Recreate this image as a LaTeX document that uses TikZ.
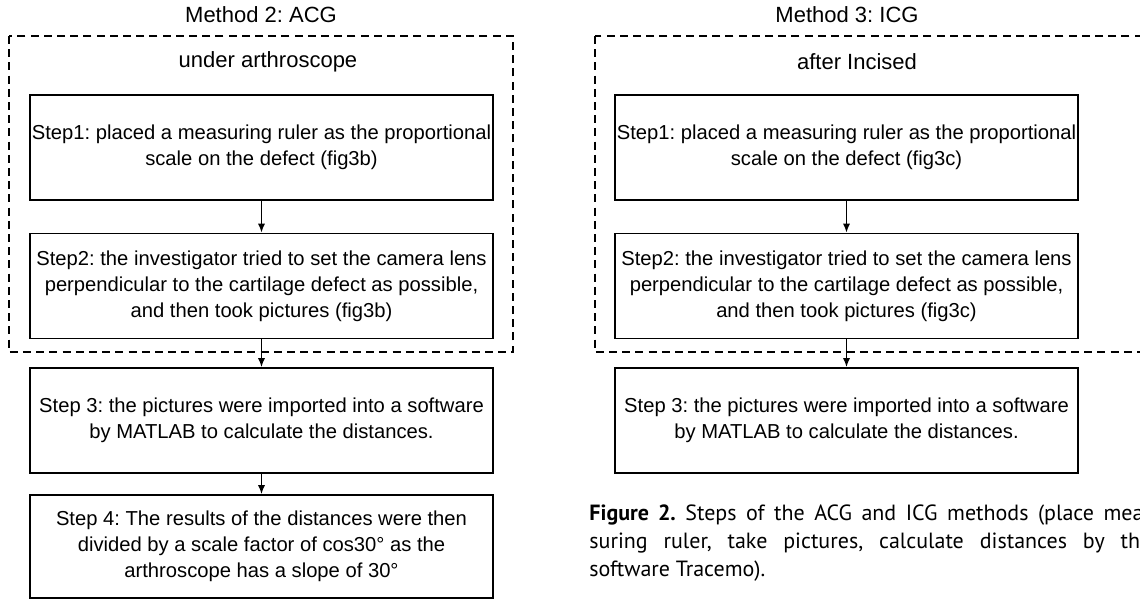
\documentclass[tikz,border=0pt]{standalone}
\usepackage{fontspec}
\setmainfont{Liberation Sans}
\newfontfamily\capfont{PT Sans}
\usetikzlibrary{arrows.meta}
\frenchspacing

\begin{document}
\begin{tikzpicture}[x=0.5pt,y=-0.5pt,
  stepbox/.style={draw, line width=0.9pt, minimum width=231.5pt, minimum height=52.5pt,
    inner sep=0pt, align=center, font=\fontsize{10.1}{13}\selectfont},
  groupbox/.style={dash pattern=on 4pt off 2.6pt, line width=0.75pt},
  heading/.style={inner sep=0pt, font=\fontsize{11}{13}\selectfont},
  flow/.style={line width=0.7pt, -{Latex[length=4.5pt,width=3.6pt]}}]
\useasboundingbox (0,0) rectangle (1140,600);
\clip (0,0) rectangle (1140,600);
% method 2: ACG
\node[heading] (acgtitle) at (261,15) {Method 2: ACG};
\draw[groupbox] (9,36) rectangle (513,352);
\node[heading] (acgwhere) at (268,62) {under arthroscope};
\node[stepbox] (acg1) at (261.5,147.5) {Step1: placed a measuring ruler as the proportional\\scale on the defect (fig3b)};
\node[stepbox] (acg2) at (261.5,286) {Step2: the investigator tried to set the camera lens\\perpendicular to the cartilage defect as possible,\\and then took pictures (fig3b)};
\node[stepbox] (acg3) at (261.5,420.5) {Step 3: the pictures were imported into a software\\by MATLAB to calculate the distances.};
\node[stepbox, minimum height=51.5pt] (acg4) at (261.5,546.5) {Step 4: The results of the distances were then\\divided by a scale factor of cos30° as the\\arthroscope has a slope of 30°};
\draw[flow] (acg1) -- (acg2);
\draw[flow] (acg2) -- (acg3);
\draw[flow] (acg3) -- (acg4);
% method 3: ICG
\node[heading] (icgtitle) at (847,15) {Method 3: ICG};
\draw[groupbox] (595,36) rectangle (1160,352);
\node[heading] (icgwhere) at (857,62) {after Incised};
\node[stepbox] (icg1) at (846.5,147.5) {Step1: placed a measuring ruler as the proportional\\scale on the defect (fig3c)};
\node[stepbox] (icg2) at (846.5,286) {Step2: the investigator tried to set the camera lens\\perpendicular to the cartilage defect as possible,\\and then took pictures (fig3c)};
\node[stepbox] (icg3) at (846.5,420.5) {Step 3: the pictures were imported into a software\\by MATLAB to calculate the distances.};
\draw[flow] (icg1) -- (icg2);
\draw[flow] (icg2) -- (icg3);
% caption
\node[anchor=north west, inner sep=0pt, text width=281pt, align=justify,
  font=\capfont\fontsize{11}{14}\selectfont] (caption) at (589,504)
  {\textbf{Figure 2.} Steps of the ACG and ICG methods (place mea-\linebreak
   suring ruler, take pictures, calculate distances by the\linebreak
   software Tracemo).};
\end{tikzpicture}
\end{document}
